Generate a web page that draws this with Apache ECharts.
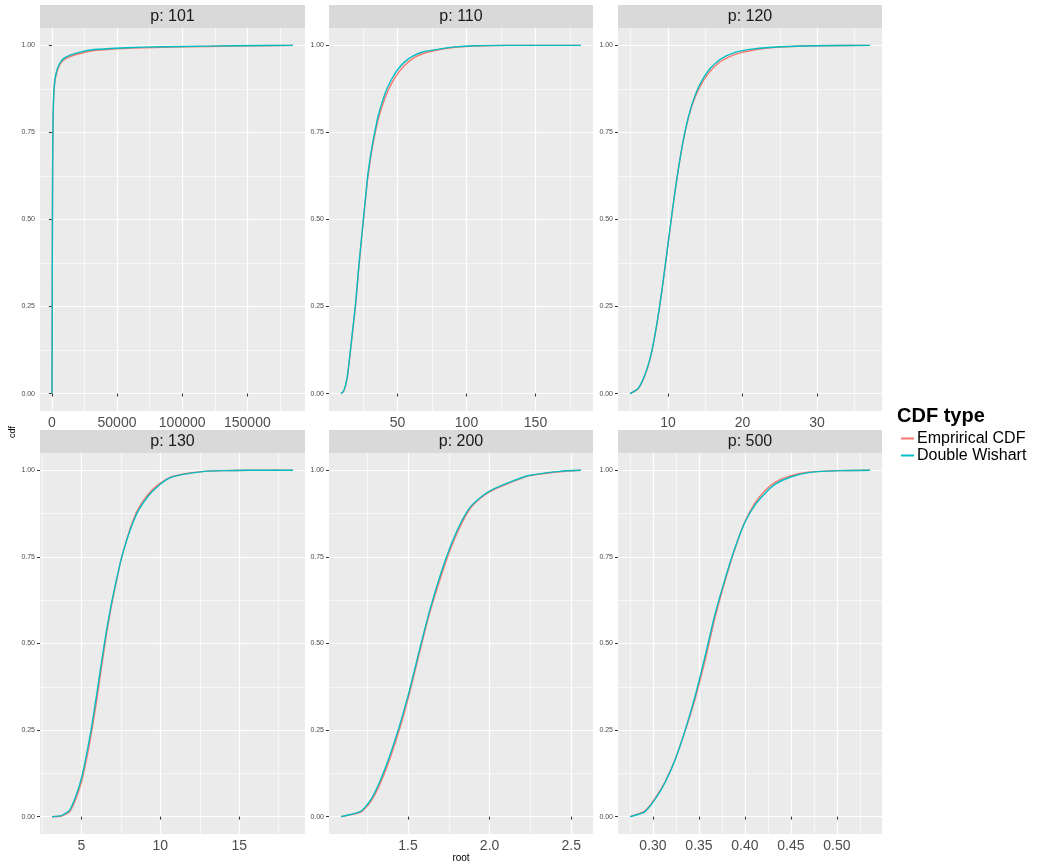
<!DOCTYPE html>
<html>
<head>
<meta charset="utf-8">
<script src="https://cdn.jsdelivr.net/npm/echarts@6/dist/echarts.min.js"></script>
<style>
html,body{margin:0;padding:0;background:#fff;}
#chart{width:1038px;height:867px;}
</style>
</head>
<body>
<div id="chart"></div>
<script>
// ---------- data ----------
const panelTitles = ['p: 101', 'p: 110', 'p: 120', 'p: 130', 'p: 200', 'p: 500'];
const seriesNames = ['Emprirical CDF', 'Double Wishart'];

const p101_root = [150, 300, 450, 600, 800, 1100, 1600, 2500, 4000, 6000, 9000, 14000, 21000, 30000, 45000, 70000, 100000, 140000, 185000];
const p101_emp  = [0, 0.29, 0.49, 0.64, 0.745, 0.815, 0.865, 0.90, 0.925, 0.944, 0.958, 0.968, 0.976, 0.984, 0.989, 0.993, 0.996, 0.998, 1.0];
const p101_dw   = [0, 0.30, 0.50, 0.65, 0.75, 0.82, 0.87, 0.905, 0.93, 0.948, 0.962, 0.972, 0.980, 0.987, 0.991, 0.995, 0.997, 0.999, 1.0];

const p110_root = [9, 11, 13.4, 15.8, 17.5, 19.6, 22.0, 25.2, 28.2, 30.7, 33.2, 36, 39.5, 42.2, 46, 50, 55, 61, 68, 78, 90, 107, 130, 183];
const p110_emp  = [0, 0.007, 0.042, 0.12, 0.18, 0.255, 0.365, 0.495, 0.612, 0.683, 0.737, 0.788, 0.833, 0.862, 0.893, 0.918, 0.942, 0.962, 0.976, 0.986, 0.994, 0.998, 1, 1];
const p110_dw   = [0, 0.008, 0.045, 0.123, 0.185, 0.26, 0.37, 0.5, 0.62, 0.69, 0.745, 0.798, 0.845, 0.875, 0.905, 0.93, 0.952, 0.969, 0.981, 0.988, 0.995, 0.999, 1, 1];

const p120_root = [4.9, 6.0, 7.0, 7.8, 8.5, 9.2, 10.0, 10.8, 11.5, 12.3, 13.2, 14.2, 15.5, 17.0, 19.0, 21.5, 25, 30, 37.1];
const p120_emp  = [0, 0.014, 0.058, 0.118, 0.198, 0.298, 0.428, 0.558, 0.66, 0.752, 0.826, 0.878, 0.922, 0.953, 0.974, 0.987, 0.995, 0.999, 1];
const p120_dw   = [0, 0.015, 0.06, 0.12, 0.2, 0.3, 0.43, 0.56, 0.66, 0.755, 0.83, 0.885, 0.93, 0.96, 0.98, 0.99, 0.996, 0.999, 1];

const p130_root = [3.14, 3.73, 4.26, 4.68, 5.0, 5.32, 5.63, 5.95, 6.27, 6.58, 6.90, 7.22, 7.53, 7.85, 8.17, 8.59, 9.22, 9.85, 10.59, 11.54, 12.81, 14.0, 15.5, 18.4];
const p130_emp  = [0, 0.002, 0.015, 0.055, 0.10, 0.165, 0.24, 0.33, 0.43, 0.525, 0.608, 0.68, 0.745, 0.797, 0.843, 0.888, 0.93, 0.958, 0.979, 0.99, 0.997, 0.999, 1, 1];
const p130_dw   = [0, 0.003, 0.019, 0.063, 0.111, 0.178, 0.255, 0.348, 0.445, 0.535, 0.615, 0.684, 0.745, 0.795, 0.838, 0.882, 0.925, 0.954, 0.978, 0.989, 0.997, 0.999, 1, 1];

const p200_root = [1.09, 1.21, 1.27, 1.33, 1.39, 1.45, 1.51, 1.57, 1.63, 1.70, 1.76, 1.82, 1.88, 1.94, 2.0, 2.12, 2.24, 2.43, 2.56];
const p200_emp  = [0, 0.013, 0.042, 0.095, 0.168, 0.255, 0.357, 0.472, 0.583, 0.69, 0.772, 0.838, 0.889, 0.918, 0.938, 0.963, 0.984, 0.996, 1];
const p200_dw   = [0, 0.015, 0.047, 0.104, 0.178, 0.265, 0.366, 0.48, 0.59, 0.70, 0.78, 0.845, 0.893, 0.92, 0.94, 0.965, 0.985, 0.997, 1];

const p500_root = [0.275, 0.291, 0.302, 0.313, 0.324, 0.335, 0.346, 0.357, 0.367, 0.378, 0.389, 0.40, 0.411, 0.422, 0.433, 0.449, 0.471, 0.503, 0.536];
const p500_emp  = [0, 0.016, 0.052, 0.10, 0.165, 0.248, 0.342, 0.455, 0.57, 0.677, 0.772, 0.852, 0.906, 0.942, 0.966, 0.984, 0.995, 0.999, 1];
const p500_dw   = [0, 0.014, 0.049, 0.098, 0.164, 0.25, 0.35, 0.467, 0.58, 0.683, 0.775, 0.85, 0.90, 0.934, 0.96, 0.98, 0.994, 0.999, 1];

// tick values and labels
const xMajorTicks = [
  [0, 50000, 100000, 150000],
  [50, 100, 150],
  [10, 20, 30],
  [5, 10, 15],
  [1.5, 2.0, 2.5],
  [0.30, 0.35, 0.40, 0.45, 0.50]
];
const xTickLabels = [
  ['0', '50000', '100000', '150000'],
  ['50', '100', '150'],
  ['10', '20', '30'],
  ['5', '10', '15'],
  ['1.5', '2.0', '2.5'],
  ['0.30', '0.35', '0.40', '0.45', '0.50']
];
const xMinorTicks = [
  [25000, 75000, 125000, 175000],
  [25, 75, 125, 175],
  [5, 15, 25, 35],
  [2.5, 7.5, 12.5, 17.5],
  [1.25, 1.75, 2.25],
  [0.275, 0.325, 0.375, 0.425, 0.475, 0.525]
];
const yMajorTicks = [0, 0.25, 0.5, 0.75, 1.0];
const yTickLabels = ['0.00', '0.25', '0.50', '0.75', '1.00'];
const yMinorTicks = [0.125, 0.375, 0.625, 0.875];

// ---------- build ----------
const panels = [
  {root: p101_root, emp: p101_emp, dw: p101_dw},
  {root: p110_root, emp: p110_emp, dw: p110_dw},
  {root: p120_root, emp: p120_emp, dw: p120_dw},
  {root: p130_root, emp: p130_emp, dw: p130_dw},
  {root: p200_root, emp: p200_emp, dw: p200_dw},
  {root: p500_root, emp: p500_emp, dw: p500_dw}
];

const layout = [
  {left: 40, top: 28, width: 265, height: 383},
  {left: 329, top: 28, width: 264, height: 383},
  {left: 618, top: 28, width: 264, height: 383},
  {left: 40, top: 453, width: 265, height: 381},
  {left: 329, top: 453, width: 264, height: 381},
  {left: 618, top: 453, width: 264, height: 381}
];
const stripH = 23;
const colors = ['#F8766D', '#00BFC4'];
const FONT = 'Liberation Sans, Arial, sans-serif';

const grid = [], xAxis = [], yAxis = [], series = [], graphic = [];

panels.forEach((p, i) => {
  const L = layout[i];
  grid.push({
    left: L.left, top: L.top, width: L.width, height: L.height,
    show: true, backgroundColor: '#EBEBEB', borderWidth: 0,
    containLabel: false
  });
  const lo = Math.min(...p.root), hi = Math.max(...p.root);
  const pad = (hi - lo) * 0.05;
  const xmin = lo - pad, xmax = hi + pad;
  const majors = xMajorTicks[i], labels = xTickLabels[i];
  xAxis.push({
    type: 'value', gridIndex: i, min: xmin, max: xmax,
    axisLine: {show: false},
    axisTick: {show: true, length: 3, lineStyle: {color: '#333333', width: 1}, customValues: majors},
    axisLabel: {
      customValues: majors, fontSize: 14, color: '#4D4D4D', margin: 5, fontFamily: FONT,
      formatter: v => {
        const k = majors.findIndex(m => Math.abs(m - v) < 1e-9 * Math.max(1, Math.abs(m)));
        return k >= 0 ? labels[k] : '';
      }
    },
    splitLine: {show: true, lineStyle: {color: '#FFFFFF', width: 1.2}},
    z: 2
  });
  xAxis.push({
    type: 'value', gridIndex: i, min: xmin, max: xmax,
    axisLine: {show: false},
    axisTick: {show: false, customValues: xMinorTicks[i]},
    axisLabel: {show: false},
    splitLine: {show: true, lineStyle: {color: '#FFFFFF', width: 0.6}},
    z: 1
  });
  yAxis.push({
    type: 'value', gridIndex: i, min: -0.05, max: 1.05,
    axisLine: {show: false},
    axisTick: {show: true, length: 3, lineStyle: {color: '#333333', width: 1}, customValues: yMajorTicks},
    axisLabel: {
      customValues: yMajorTicks, fontSize: 7, color: '#4D4D4D', margin: 5, fontFamily: FONT,
      formatter: v => {
        const k = yMajorTicks.findIndex(m => Math.abs(m - v) < 1e-9);
        return k >= 0 ? yTickLabels[k] : '';
      }
    },
    splitLine: {show: true, lineStyle: {color: '#FFFFFF', width: 1.2}},
    z: 2
  });
  yAxis.push({
    type: 'value', gridIndex: i, min: -0.05, max: 1.05,
    axisLine: {show: false},
    axisTick: {show: false, customValues: yMinorTicks},
    axisLabel: {show: false},
    splitLine: {show: true, lineStyle: {color: '#FFFFFF', width: 0.6}},
    z: 1
  });

  [p.emp, p.dw].forEach((vals, s) => {
    series.push({
      name: seriesNames[s],
      type: 'line',
      xAxisIndex: 2 * i, yAxisIndex: 2 * i,
      data: p.root.map((x, k) => [x, vals[k]]),
      showSymbol: false, symbol: 'none',
      smooth: 0.2,
      lineStyle: {color: colors[s], width: 1.4},
      itemStyle: {color: colors[s]},
      z: 3 + s,
      silent: true
    });
  });

  graphic.push({
    type: 'rect', left: L.left, top: L.top - stripH,
    shape: {width: L.width, height: stripH},
    style: {fill: '#D9D9D9'}, silent: true
  });
  graphic.push({
    type: 'text', x: L.left + L.width / 2, y: L.top - stripH / 2,
    style: {
      text: panelTitles[i], fill: '#1A1A1A', fontSize: 16, fontFamily: FONT,
      align: 'center', verticalAlign: 'middle'
    }, silent: true
  });
});

graphic.push({
  type: 'text', x: 13, y: 432, rotation: Math.PI / 2,
  style: {text: 'cdf', fill: '#000', fontSize: 9, fontFamily: FONT,
          align: 'center', verticalAlign: 'middle'}, silent: true
});
graphic.push({
  type: 'text', x: 461, y: 858,
  style: {text: 'root', fill: '#000', fontSize: 10, fontFamily: FONT,
          align: 'center', verticalAlign: 'middle'}, silent: true
});
graphic.push({
  type: 'text', x: 897, y: 416,
  style: {text: 'CDF type', fill: '#000', fontSize: 20, fontWeight: 'bold', fontFamily: FONT,
          align: 'left', verticalAlign: 'middle'}, silent: true
});

const chart = echarts.init(document.getElementById('chart'), null, {renderer: 'canvas'});
chart.setOption({
  animation: false,
  backgroundColor: '#FFFFFF',
  grid, xAxis, yAxis, series, graphic,
  legend: {
    data: seriesNames,
    orient: 'vertical',
    left: 896, top: 425,
    icon: 'rect', itemWidth: 13, itemHeight: 2, itemGap: 0,
    selectedMode: false,
    textStyle: {fontSize: 16, color: '#000', lineHeight: 17, padding: [0, 0, 0, -2], fontFamily: FONT}
  }
});
</script>
</body>
</html>
